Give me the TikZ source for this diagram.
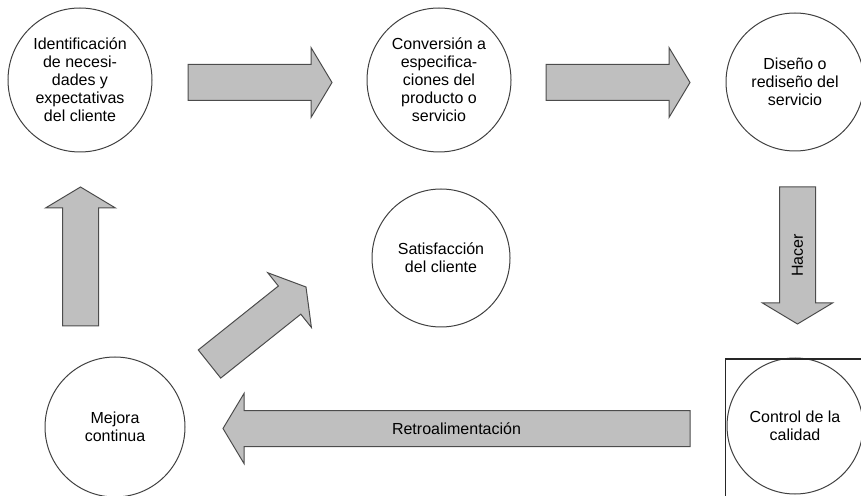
\documentclass[tikz,border=0pt]{standalone}
\usepackage{fontspec}
\setmainfont{Liberation Sans}
\usetikzlibrary{calc}
% block arrow from a tail coordinate to a tip coordinate
\newcommand{\blockarrow}[2]{%
  \coordinate (hb) at ($(#2)!10.5pt!(#1)$);
  \draw[barrow] ($(#1)!9pt!90:(#2)$) -- ($(hb)!9pt!90:(#2)$) -- ($(hb)!17.5pt!90:(#2)$)
    -- (#2) -- ($(hb)!17.5pt!-90:(#2)$) -- ($(hb)!9pt!-90:(#2)$) -- ($(#1)!9pt!-90:(#2)$) -- cycle;}
\begin{document}
\begin{tikzpicture}[x=0.5pt, y=-0.5pt, every node/.style={font=\fontsize{8}{9}\selectfont},
  stage/.style={draw=black!75, line width=0.5pt, circle, inner sep=0pt, align=center},
  barrow/.style={draw=black!70, fill=black!25, line width=0.5pt, line join=miter}]
\useasboundingbox (0,0) rectangle (861,496);
% stages
\node[stage, minimum size=72pt] (ident) at (80,80) {Identificación\\de necesi-\\dades y\\expectativas\\del cliente};
\node[stage, minimum size=72pt] (conv) at (439,80) {Conversión a\\especifica-\\ciones del\\producto o\\servicio};
\node[stage, minimum size=69pt] (disen) at (795,82) {Diseño o\\rediseño del\\servicio};
\node[stage, minimum size=69pt] (satis) at (441,258) {Satisfacción\\del cliente};
\node[stage, minimum size=70pt] (mejora) at (115,427) {Mejora\\continua};
\node[stage, minimum size=68pt] (ctrl) at (795,426) {Control de la\\calidad};
\draw[black!85, line width=0.5pt] (725,496) |- (861,359);
% arrow ends
\coordinate (a1s) at (188,82.5);   \coordinate (a1e) at (332,82.5);
\coordinate (a2s) at (546,82.5);   \coordinate (a2e) at (690,82.5);
\coordinate (hs) at (797.5,187);   \coordinate (he) at (797.5,324);
\coordinate (rs) at (690,428.5);   \coordinate (re) at (223,428.5);
\coordinate (us) at (80.5,326);    \coordinate (ue) at (80.5,187);
\coordinate (ds) at (209.5,364);   \coordinate (de) at (306,287);
\blockarrow{a1s}{a1e}
\blockarrow{a2s}{a2e}
\blockarrow{hs}{he}
\blockarrow{rs}{re}
\blockarrow{us}{ue}
\blockarrow{ds}{de}
\node[rotate=90] (hacer) at ($(hs)!.5!(he)$) {Hacer};
\node (retro) at ($(rs)!.5!(re)$) {Retroalimentación};
\end{tikzpicture}
\end{document}
